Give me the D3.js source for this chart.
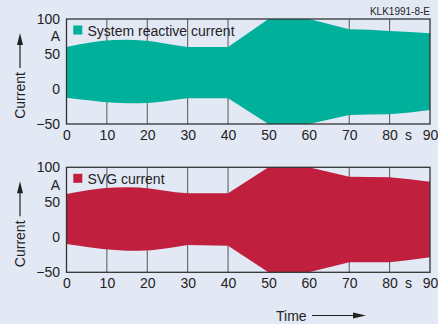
<!DOCTYPE html>
<html><head><meta charset="utf-8">
<script src="https://cdn.jsdelivr.net/npm/d3@7"></script>
<style>
html,body{margin:0;padding:0;background:#e3e8f5;}
svg{display:block;font-family:"Liberation Sans",Arial,Helvetica,sans-serif;}
</style></head>
<body>
<script>
// ---- data ----
const time = [0,3,6,9,12,15,18,21,24,27,30,40,50,60,70,75,80,85,90];
const sysUpper = [60,63.5,66.5,68.8,70,70.3,69.8,68.2,65.5,62.5,60,60,100,100,85.3,84.5,83,81.5,79.5];
const sysLower = [-12.4,-14.5,-16.5,-18.5,-19.8,-20.4,-20.4,-19.7,-17.8,-15.3,-13.3,-13.3,-50,-50,-37,-36.5,-36,-33.5,-30];
const svgUpper = [62,65,67.8,70,71.2,71.5,71,69.5,67,64.5,63,63,100,100,86.6,86.3,85.7,83,79.4];
const svgLower = [-9.6,-12,-14.5,-16.7,-18.3,-19.2,-19.3,-18.5,-16.5,-13.8,-11,-12,-50,-50,-35.6,-35.8,-35.6,-32.5,-28.6];
const xTicks = [0,10,20,30,40,50,60,70,80,90];
const gridTicks = [10,20,30,40,50,60,70,80];
const yTicks = [100,50,0,-50];
const panels = [
  {name:"System reactive current", upper:sysUpper, lower:sysLower, color:"#00b09b"},
  {name:"SVG current", upper:svgUpper, lower:svgLower, color:"#c11f3e"}
];

const W=438, H=324;
const svg = d3.select("body").append("svg").attr("width",W).attr("height",H);
svg.append("rect").attr("width",W).attr("height",H).attr("fill","#e3e8f5");

const left=66.5, right=430;
const tops=[19,167.3], ph=105;
const x = d3.scaleLinear().domain([0,90]).range([left,right]);

panels.forEach((p,i)=>{
  const top=tops[i];
  const y = d3.scaleLinear().domain([-50,100]).range([top+ph, top]);
  const g = svg.append("g");
  const cid="clip"+i;
  svg.append("clipPath").attr("id",cid).append("rect")
    .attr("x",left).attr("y",top).attr("width",right-left).attr("height",ph);
  // grid
  g.selectAll("line.grid").data(gridTicks).join("line")
    .attr("x1",d=>x(d)).attr("x2",d=>x(d)).attr("y1",top).attr("y2",top+ph)
    .attr("stroke","#555").attr("stroke-width",1);
  // area
  const data = time.map((t,k)=>({t, u:p.upper[k], l:p.lower[k]}));
  const area = d3.area().x(d=>x(d.t)).y0(d=>y(d.l)).y1(d=>y(d.u)).curve(d3.curveLinear);
  g.append("path").datum(data).attr("d",area).attr("fill",p.color).attr("clip-path",`url(#${cid})`);
  // frame
  g.append("rect").attr("x",left).attr("y",top).attr("width",right-left).attr("height",ph)
    .attr("fill","none").attr("stroke","#333").attr("stroke-width",1.3);
  // legend
  g.append("rect").attr("x",73.3).attr("y",top+6.5).attr("width",9).attr("height",9).attr("fill",p.color);
  g.append("text").attr("x",87.5).attr("y",top+16.5).attr("font-size",14).attr("fill","#222").text(p.name);
  // y axis
  const ya = d3.axisLeft(y).tickValues(yTicks).tickSize(0).tickPadding(6.5).tickFormat(d=>d<0?"\u2212"+Math.abs(d):d);
  const yg = g.append("g").attr("transform",`translate(${left},0)`).call(ya);
  yg.select(".domain").remove();
  yg.selectAll("text").attr("font-size",14).attr("fill","#222").attr("font-family","Liberation Sans, Arial, sans-serif");
  g.append("text").attr("x",60).attr("y",y(75)).attr("dy","0.35em").attr("text-anchor","end")
    .attr("font-size",14).attr("fill","#222").text("A");
  // x axis
  const xa = d3.axisBottom(x).tickValues(xTicks).tickSize(0).tickPadding(6);
  const xg = g.append("g").attr("transform",`translate(0,${top+ph})`).call(xa);
  xg.select(".domain").remove();
  xg.selectAll("text").attr("font-size",14).attr("fill","#222").attr("font-family","Liberation Sans, Arial, sans-serif");
  g.append("text").attr("x",x(84.7)).attr("y",top+ph+6).attr("dy","0.71em").attr("text-anchor","middle")
    .attr("font-size",14).attr("fill","#222").text("s");
  // y label with arrow
  const cy = top + 76.5;
  g.append("text").attr("transform",`translate(24.5,${cy}) rotate(-90)`).attr("text-anchor","middle")
    .attr("font-size",14).attr("fill","#222").text("Current");
  const ax=20, atop=top+14, abot=top+49;
  g.append("line").attr("x1",ax).attr("x2",ax).attr("y1",atop+8).attr("y2",abot).attr("stroke","#222").attr("stroke-width",1.2);
  g.append("path").attr("d",`M${ax},${atop} L${ax-3},${atop+12} L${ax+3},${atop+12} Z`).attr("fill","#222");
});

// top-right code
svg.append("text").attr("x",430).attr("y",15).attr("text-anchor","end").attr("font-size",10).attr("fill","#222").text("KLK1991-8-E");

// Time label with arrow
svg.append("text").attr("x",276).attr("y",320.5).attr("font-size",14).attr("fill","#222").text("Time");
svg.append("line").attr("x1",312).attr("x2",356).attr("y1",315.5).attr("y2",315.5).attr("stroke","#222").attr("stroke-width",1.2);
svg.append("path").attr("d","M366,315.5 L353,312.5 L353,318.5 Z").attr("fill","#222");
</script>
</body></html>
